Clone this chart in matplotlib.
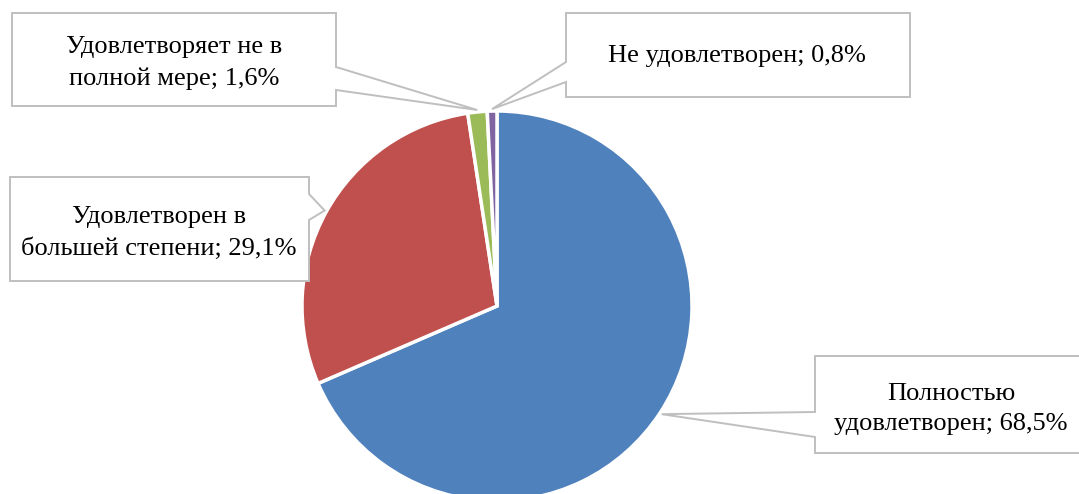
import numpy as np
import matplotlib
matplotlib.use("Agg")
import matplotlib.pyplot as plt
from matplotlib.patches import Polygon

# данные
categories = ["Полностью\nудовлетворен", "Удовлетворен в\nбольшей степени",
              "Удовлетворяет не в\nполной мере", "Не удовлетворен"]
shares = [68.5, 29.1, 1.6, 0.8]
colors = ["#4F81BD", "#C0504D", "#9BBB59", "#8064A2"]

W, H = 1079, 494

# рамки подписей (в пикселях картинки, y сверху вниз):
# x0, y0, x1, y1, сторона выноски, y начала выноски, y конца выноски, центр текста
boxes = [
    (815, 356, 1085, 453, "left", 412, 437, (951, 409)),
    (10, 177, 309, 281, "right", 194, 220, (159, 233)),
    (12, 13, 336, 106, "right", 67, 90, (174, 63)),
    (566, 13, 910, 97, "left", 62, 82, (737, 56)),
]

def fy(y):
    return H - y

fig = plt.figure(figsize=(W / 100, H / 100), dpi=100)
ax = fig.add_axes([0, 0, 1, 1])

cx, cy, r = 497, fy(306), 195
wedges, _ = ax.pie(shares, colors=colors, startangle=90, counterclock=False,
                   center=(cx, cy), radius=r,
                   wedgeprops=dict(edgecolor="white", linewidth=2.5))
ax.set_xlim(0, W)
ax.set_ylim(0, H)
ax.set_aspect("equal")
ax.axis("off")

for w, cat, val, b in zip(wedges, categories, shares, boxes):
    x0, y0, x1, y1, side, ya, yb, (tx, ty) = b
    ang = np.deg2rad((w.theta1 + w.theta2) / 2)
    tip = (cx + (r + 2) * np.cos(ang), cy + (r + 2) * np.sin(ang))
    if side == "right":
        pts = [(x0, fy(y0)), (x1, fy(y0)), (x1, fy(ya)), tip, (x1, fy(yb)),
               (x1, fy(y1)), (x0, fy(y1))]
    else:
        pts = [(x0, fy(y0)), (x1, fy(y0)), (x1, fy(y1)), (x0, fy(y1)),
               (x0, fy(yb)), tip, (x0, fy(ya))]
    ax.add_patch(Polygon(pts, closed=True, facecolor="white", edgecolor="#BFBFBF",
                         linewidth=1.4, zorder=3))
    label = cat + "; " + ("%.1f" % val).replace(".", ",") + "%"
    ax.text(tx, fy(ty), label, ha="center", va="center", fontsize=19,
            family="Liberation Serif", linespacing=1.5, zorder=4)

fig.savefig("out.png", dpi=100)
